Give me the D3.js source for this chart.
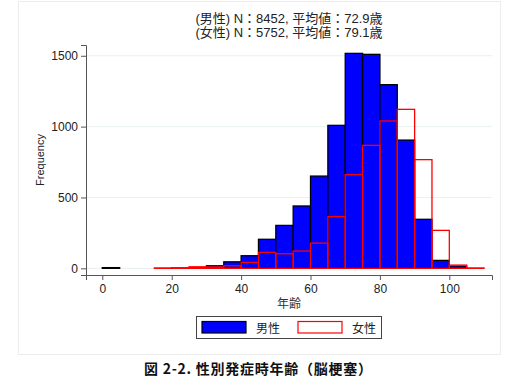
<!DOCTYPE html>
<html>
<head>
<meta charset="utf-8">
<script src="https://cdn.jsdelivr.net/npm/d3@7"></script>
<style>
  body { margin: 0; background: #fff; }
  text { font-family: "Liberation Sans", Arial, sans-serif; }
</style>
</head>
<body>
<div id="chart"></div>
<script>
// bin starts (width 5 years)
var maleBins = [0, 15, 20, 25, 30, 35, 40, 45, 50, 55, 60, 65, 70, 75, 80, 85, 90, 95, 100];
var maleCounts = [5, 0, 2, 3, 18, 46, 89, 205, 303, 440, 651, 1009, 1517, 1510, 1296, 905, 346, 56, 16];
var femaleBins = [15, 20, 25, 30, 35, 40, 45, 50, 55, 60, 65, 70, 75, 80, 85, 90, 95, 100, 105];
var femaleCounts = [3, 3, 11, 10, 18, 42, 113, 103, 122, 178, 365, 661, 868, 1040, 1122, 767, 268, 23, 3];
var binWidth = 5;

var xTicks = [0, 20, 40, 60, 80, 100];
var yTicks = [0, 500, 1000, 1500];
var titleLines = ["(男性) N：8452, 平均値：72.9歳", "(女性) N：5752, 平均値：79.1歳"];
var legendLabels = ["男性", "女性"];

var svgWidth = 527, svgHeight = 386;
var margin = {top: 45, right: 35, bottom: 111, left: 86};
var width = svgWidth - margin.left - margin.right;
var height = svgHeight - margin.top - margin.bottom;

var svg = d3.select("#chart").append("svg")
    .attr("width", svgWidth)
    .attr("height", svgHeight);

// light outer frame
svg.append("rect")
    .attr("x", 18.5).attr("y", 1.5)
    .attr("width", 482).attr("height", 353)
    .attr("fill", "none")
    .attr("stroke", "#ececec");

var chartGroup = svg.append("g")
    .attr("transform", `translate(${margin.left}, ${margin.top})`);

var x = d3.scaleLinear().domain([-4.7, 112.3]).range([0, width]);
var y = d3.scaleLinear().domain([-47, 1576]).range([height, 0]);

// gridlines
chartGroup.selectAll(".grid")
    .data(yTicks)
    .enter()
    .append("line")
    .attr("x1", 0).attr("x2", width)
    .attr("y1", d => y(d)).attr("y2", d => y(d))
    .attr("stroke", "#e8f0f2")
    .attr("stroke-width", 1);

var male = maleBins.map((b, i) => ({x0: b, n: maleCounts[i]}));
var female = femaleBins.map((b, i) => ({x0: b, n: femaleCounts[i]}));

chartGroup.selectAll(".male")
    .data(male)
    .enter()
    .append("rect")
    .attr("x", d => x(d.x0))
    .attr("y", d => y(d.n))
    .attr("width", d => x(d.x0 + binWidth) - x(d.x0))
    .attr("height", d => y(0) - y(d.n))
    .attr("fill", "#0000ff")
    .attr("stroke", "#000")
    .attr("stroke-width", 1.3);

chartGroup.selectAll(".female")
    .data(female)
    .enter()
    .append("rect")
    .attr("x", d => x(d.x0))
    .attr("y", d => y(d.n))
    .attr("width", d => x(d.x0 + binWidth) - x(d.x0))
    .attr("height", d => y(0) - y(d.n))
    .attr("fill", "none")
    .attr("stroke", "#ff0000")
    .attr("stroke-width", 1.3);

// axes
var leftAxis = d3.axisLeft(y).tickValues(yTicks).tickFormat(d3.format("d")).tickSize(5).tickPadding(3);
var bottomAxis = d3.axisBottom(x).tickValues(xTicks).tickFormat(d3.format("d")).tickSize(5).tickPadding(4);

var yAxis = chartGroup.append("g").call(leftAxis);
var xAxis = chartGroup.append("g")
    .attr("transform", `translate(0, ${height})`)
    .call(bottomAxis);

[xAxis, yAxis].forEach(function(a) {
    a.attr("font-family", null);
    a.select(".domain").attr("stroke", "#555");
    a.selectAll(".tick line").attr("stroke", "#555");
    a.selectAll("text")
        .attr("font-size", "12px")
        .attr("fill", "#222")
        .style("font-family", "'Liberation Sans', Arial, sans-serif");
});

// titles
svg.selectAll(".title")
    .data(titleLines)
    .enter()
    .append("text")
    .attr("x", margin.left + width / 2)
    .attr("y", (d, i) => 23 + i * 14)
    .attr("text-anchor", "middle")
    .attr("font-size", "13px")
    .attr("fill", "#222")
    .style("font-family", "'Liberation Sans', 'Noto Sans CJK JP', sans-serif")
    .text(d => d);

// axis labels
svg.append("text")
    .attr("transform", "rotate(-90)")
    .attr("x", -(margin.top + 115))
    .attr("y", 44)
    .attr("text-anchor", "middle")
    .attr("font-size", "11px")
    .attr("fill", "#222")
    .text("Frequency");

svg.append("text")
    .attr("x", margin.left + width / 2)
    .attr("y", 308)
    .attr("text-anchor", "middle")
    .attr("font-size", "12px")
    .attr("fill", "#333")
    .style("font-family", "'Noto Sans CJK JP', sans-serif")
    .text("年齢");

// legend
var legend = svg.append("g");
legend.append("rect")
    .attr("x", 196.5).attr("y", 316.5)
    .attr("width", 185).attr("height", 22)
    .attr("fill", "#fff")
    .attr("stroke", "#444");

var keyX = [202, 298];
legend.selectAll(".key")
    .data(legendLabels)
    .enter()
    .append("rect")
    .attr("x", (d, i) => keyX[i])
    .attr("y", 321.5)
    .attr("width", 44)
    .attr("height", 11.5)
    .attr("fill", (d, i) => i === 0 ? "#0000ff" : "#fff")
    .attr("stroke", (d, i) => i === 0 ? "#000" : "#ff0000")
    .attr("stroke-width", 1.2);

legend.selectAll(".lab")
    .data(legendLabels)
    .enter()
    .append("text")
    .attr("x", (d, i) => keyX[i] + 54)
    .attr("y", 332.5)
    .attr("font-size", "12px")
    .attr("fill", "#222")
    .style("font-family", "'Noto Sans CJK JP', sans-serif")
    .text(d => d);

// caption
svg.append("text")
    .attr("x", 144)
    .attr("y", 374)
    .attr("font-size", "14px")
    .attr("font-weight", "bold")
    .attr("fill", "#111")
    .attr("textLength", 228)
    .attr("lengthAdjust", "spacing")
    .style("font-family", "'Noto Sans CJK JP', sans-serif")
    .text("図 2-2. 性別発症時年齢（脳梗塞）");
</script>
</body>
</html>
